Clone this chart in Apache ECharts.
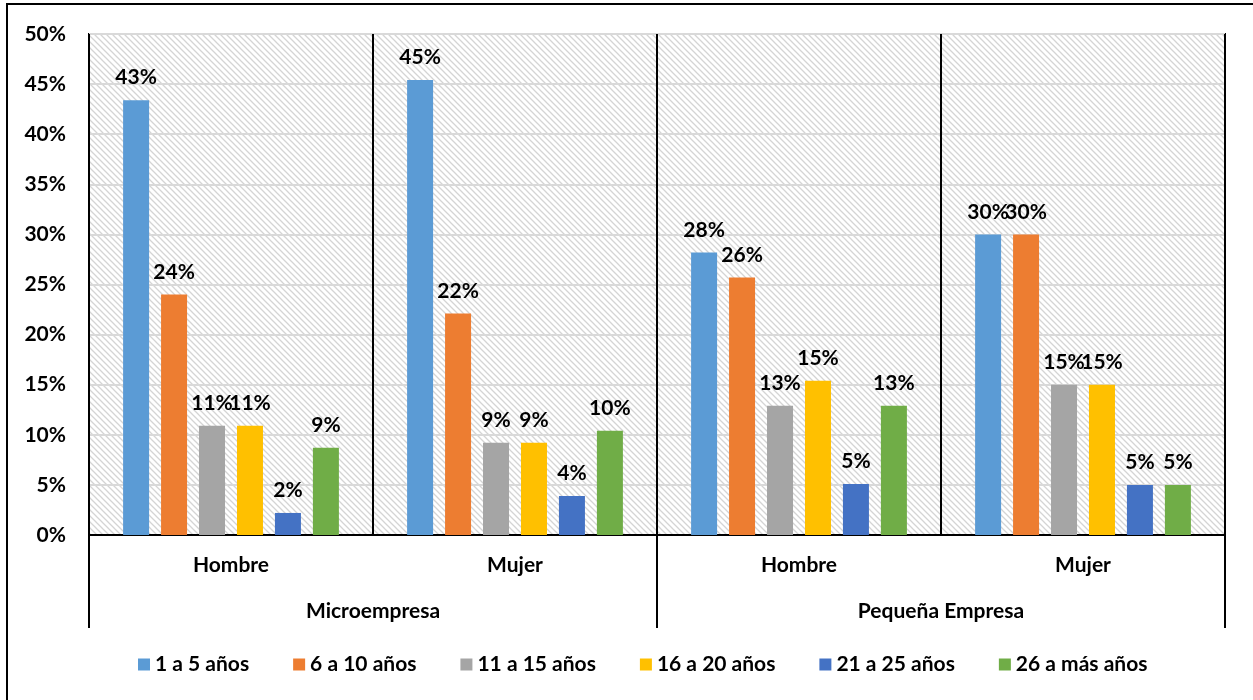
<!DOCTYPE html>
<html>
<head>
<meta charset="utf-8">
<script src="https://cdn.jsdelivr.net/npm/echarts@6/dist/echarts.min.js"></script>
<style>html,body{margin:0;padding:0;background:#fff}#c{width:1253px;height:700px}</style>
</head>
<body>
<div id="c"></div>
<script>
var subCategories = ['Hombre', 'Mujer', 'Hombre', 'Mujer'];
var groupCategories = ['Microempresa', 'Pequeña Empresa'];
var seriesNames = ['1 a 5 años', '6 a 10 años', '11 a 15 años', '16 a 20 años', '21 a 25 años', '26 a más años'];
var s1a5 = [43.4, 45.4, 28.2, 30.0];
var s6a10 = [24.0, 22.1, 25.7, 30.0];
var s11a15 = [10.9, 9.2, 12.9, 15.0];
var s16a20 = [10.9, 9.2, 15.4, 15.0];
var s21a25 = [2.2, 3.9, 5.1, 5.0];
var s26mas = [8.7, 10.4, 12.9, 5.0];
var yTicks = [0, 5, 10, 15, 20, 25, 30, 35, 40, 45, 50];
var colors = ['#5B9BD5', '#ED7D31', '#A5A5A5', '#FFC000', '#4472C4', '#70AD47'];

var seriesData = [s1a5, s6a10, s11a15, s16a20, s21a25, s26mas];

// hatch pattern
var pc = document.createElement('canvas');
pc.width = 6; pc.height = 6;
var pctx = pc.getContext('2d');
pctx.fillStyle = '#ffffff';
pctx.fillRect(0, 0, 6, 6);
pctx.strokeStyle = '#d4d4d4';
pctx.lineWidth = 1.3;
pctx.beginPath();
pctx.moveTo(-1, -1); pctx.lineTo(7, 7);
pctx.moveTo(-4, 2); pctx.lineTo(2, 8);
pctx.moveTo(2, -4); pctx.lineTo(8, 2);
pctx.stroke();

var FONT = 'Lato, "Open Sans", sans-serif';
var FS = 21;
var chart = echarts.init(document.getElementById('c'), null, {renderer: 'canvas'});

var series = seriesNames.map(function (n, i) {
  return {
    name: n,
    type: 'bar',
    data: seriesData[i],
    barWidth: 26,
    barGap: '46%',
    itemStyle: {color: colors[i]},
    label: {
      show: true,
      position: 'top',
      distance: 12,
      color: '#000',
      fontWeight: 'bold',
      fontSize: FS,
      fontFamily: FONT,
      formatter: function (p) { return Math.round(p.value) + '%'; }
    }
  };
});

chart.setOption({
  animation: false,
  backgroundColor: '#fff',
  textStyle: {fontFamily: FONT},
  graphic: [{
    type: 'rect',
    shape: {x: 7, y: 4, width: 1270, height: 720},
    style: {fill: 'none', stroke: '#000', lineWidth: 2},
    z: 100
  }],
  grid: {
    left: 89, right: 28, top: 34, bottom: 165,
    show: true,
    backgroundColor: {image: pc, repeat: 'repeat'},
    borderColor: '#000',
    borderWidth: 2
  },
  legend: {
    bottom: 20,
    left: 133,
    itemWidth: 12,
    itemHeight: 12,
    itemGap: 44,
    icon: 'rect',
    textStyle: {fontSize: FS, fontWeight: 'bold', color: '#000', fontFamily: FONT},
    data: seriesNames
  },
  xAxis: [{
    type: 'category',
    data: subCategories,
    position: 'bottom',
    axisLine: {show: true, lineStyle: {color: '#000', width: 2}},
    axisTick: {show: false},
    splitLine: {show: true, lineStyle: {color: '#000', width: 2}},
    axisLabel: {fontSize: FS, fontWeight: 'bold', color: '#000', margin: 20, fontFamily: FONT}
  }, {
    type: 'category',
    data: groupCategories,
    position: 'bottom',
    offset: 93,
    axisLine: {show: false},
    axisTick: {show: true, inside: true, length: 93, lineStyle: {color: '#000', width: 2}},
    axisLabel: {fontSize: FS, fontWeight: 'bold', color: '#000', margin: -27, fontFamily: FONT}
  }],
  yAxis: {
    type: 'value',
    min: 0, max: 50, interval: 5,
    axisLine: {show: false},
    axisTick: {show: false},
    splitLine: {show: true, lineStyle: {color: '#d9d9d9', width: 2}},
    axisLabel: {
      fontSize: FS, fontWeight: 'bold', color: '#000', margin: 23, fontFamily: FONT,
      formatter: function (v) { return yTicks.indexOf(v) >= 0 ? v + '%' : ''; }
    }
  },
  series: series
});
</script>
</body>
</html>
